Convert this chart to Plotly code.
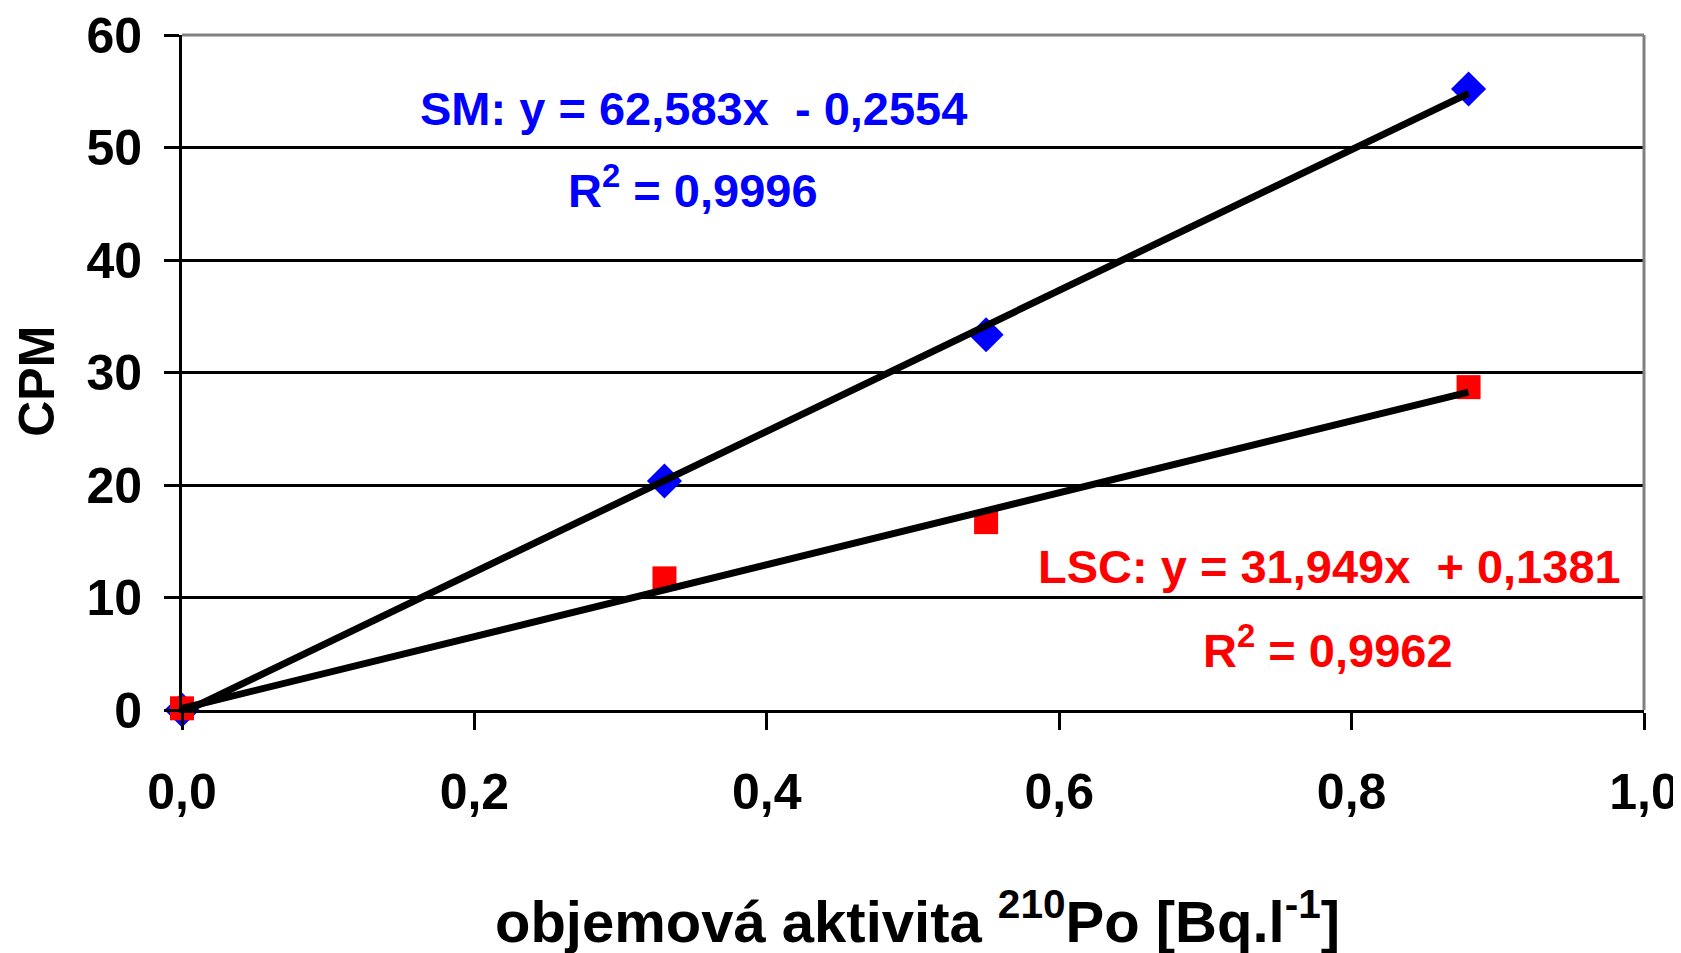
import plotly.graph_objects as go

# Data
x_sm = [0.0, 0.33, 0.55, 0.88]
y_sm = [0.0, 20.35, 33.35, 55.2]
x_lsc = [0.0, 0.33, 0.55, 0.88]
y_lsc = [0.15, 11.7, 16.7, 28.7]

# Trendline coefficients (slope, intercept, R^2) as shown on the chart
sm_fit = [62.583, -0.2554, 0.9996]
lsc_fit = [31.949, 0.1381, 0.9962]

x_ticks = [0.0, 0.2, 0.4, 0.6, 0.8, 1.0]
y_ticks = [0, 10, 20, 30, 40, 50, 60]

FONT = "Liberation Sans, Arial, sans-serif"

# page body has an 8px margin; figure sized to fit the window
OFF = 8
W, H = 1673, 945
L, T = 174, 27
R = W - (1636)
B = H - 702.5
pw = W - L - R
ph = H - T - B


def sx(px):
    """screen pixel x -> paper fraction"""
    return (px - OFF - L) / pw


def sy(py):
    """screen pixel y -> paper fraction"""
    return (H - B - (py - OFF)) / ph


fig = go.Figure()

fig.add_trace(go.Scatter(x=x_sm, y=y_sm, mode="markers", cliponaxis=False,
                         marker=dict(symbol="diamond", size=27, color="#0000FF"),
                         showlegend=False))
fig.add_trace(go.Scatter(x=x_lsc, y=y_lsc, mode="markers", cliponaxis=False,
                         marker=dict(symbol="square", size=24, color="#FF0000"),
                         showlegend=False))

for fit, xs in ((sm_fit, x_sm), (lsc_fit, x_lsc)):
    xl = [min(xs), max(xs)]
    yl = [fit[0] * v + fit[1] for v in xl]
    fig.add_trace(go.Scatter(x=xl, y=yl, mode="lines", cliponaxis=False,
                             line=dict(color="black", width=7), showlegend=False))


def fmt(v, nd):
    return f"{v:.{nd}f}".replace(".", ",")


def eq_text(name, fit):
    sign = "-" if fit[1] < 0 else "+"
    return f"{name}: y = {fmt(fit[0], 3)}x  {sign} {fmt(abs(fit[1]), 4)}"


annos = [
    (eq_text("SM", sm_fit), 693, 109, "#0000FF"),
    (f"R<sup>2</sup> = {fmt(sm_fit[2], 4)}", 693, 187, "#0000FF"),
    (eq_text("LSC", lsc_fit), 1329, 567, "#FF0000"),
    (f"R<sup>2</sup> = {fmt(lsc_fit[2], 4)}", 1328, 647, "#FF0000"),
]
for txt, cx, cy, col in annos:
    fig.add_annotation(x=sx(cx), y=sy(cy), xref="paper", yref="paper", text=f"<b>{txt}</b>",
                       showarrow=False, xanchor="center", yanchor="middle",
                       font=dict(family=FONT, size=47, color=col))

# axis titles as annotations (fixed margins)
fig.add_annotation(x=sx(917), y=sy(918), xref="paper", yref="paper",
                   text="<b>objemová aktivita <sup>210</sup>Po [Bq.l<sup>-1</sup>]</b>",
                   showarrow=False, xanchor="center", yanchor="middle",
                   font=dict(family=FONT, size=58, color="black"))
fig.add_annotation(x=sx(37), y=sy(382), xref="paper", yref="paper",
                   text="<b>CPM</b>", textangle=-90,
                   showarrow=False, xanchor="center", yanchor="middle",
                   font=dict(family=FONT, size=50, color="black"))

# gray top/right border
fig.add_shape(type="line", xref="paper", yref="paper", x0=0, x1=1, y0=1, y1=1,
              line=dict(color="#808080", width=3))
fig.add_shape(type="line", xref="paper", yref="paper", x0=1, x1=1, y0=0, y1=1,
              line=dict(color="#808080", width=3))

fig.update_layout(
    width=W, height=H,
    margin=dict(l=L, r=R, t=T, b=B, pad=0, autoexpand=False),
    plot_bgcolor="white", paper_bgcolor="white",
    separators=", ",
    showlegend=False,
)

fig.update_xaxes(
    range=[0, 1], tickvals=x_ticks, tickformat=".1f", automargin=False,
    showgrid=False, zeroline=False,
    showline=True, linecolor="black", linewidth=3,
    ticks="outside", ticklen=17, tickwidth=3, tickcolor="black",
    ticklabelstandoff=19, ticklabeloverflow="allow",
    tickfont=dict(family=FONT, size=50, color="black", weight="bold"),
)
fig.update_yaxes(
    range=[0, 60], tickvals=y_ticks, automargin=False,
    showgrid=True, gridcolor="black", gridwidth=3, zeroline=False,
    showline=True, linecolor="black", linewidth=3,
    ticks="outside", ticklen=15, tickwidth=3, tickcolor="black",
    ticklabelstandoff=12, ticklabeloverflow="allow",
    tickfont=dict(family=FONT, size=50, color="black", weight="bold"),
)

fig.write_html("out.html")
